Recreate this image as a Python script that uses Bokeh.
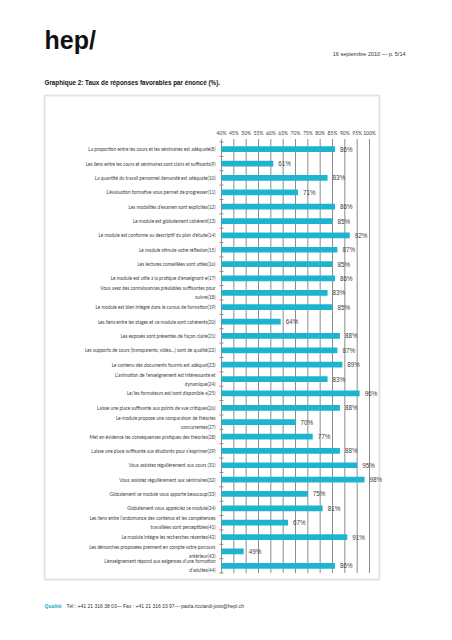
from bokeh.plotting import figure
from bokeh.models import Range1d, Label, BoxAnnotation
from bokeh.core.properties import value
from bokeh.embed import file_html
from bokeh.resources import INLINE

categories = [
    "La proportion entre les cours et les séminaires est adéquate(8)",
    "Les liens entre les cours et séminaires sont clairs et suffisants(9)",
    "La quantité du travail personnel demandé est adéquate(10)",
    "L’évaluation formative vous permet de progresser(11)",
    "Les modalités d’examen sont explicites(12)",
    "Le module est globalement cohérent(13)",
    "Le module est conforme au descriptif du plan d’étude(14)",
    "Le module stimule votre réflexion(15)",
    "Les lectures conseillées sont utiles(16)",
    "Le module est utile à la pratique d’enseignant-e(17)",
    "Vous avez des connaissances préalables suffisantes pour\nsuivre(18)",
    "Le module est bien intégré dans le cursus de formation(19)",
    "Les liens entre les stages et ce module sont cohérents(20)",
    "Les exposés sont présentés de façon claire(21)",
    "Les supports de cours (transparents, vidéo…) sont de qualité(22)",
    "Le contenu des documents fournis est adéquat(23)",
    "L’animation de l’enseignement est intéressante et\ndynamique(24)",
    "Le/les formateurs est/sont disponible-s(25)",
    "Laisse une place suffisante aux points de vue critiques(26)",
    "Le module propose une comparaison de théories\nconcurrentes(27)",
    "Met en évidence les conséquences pratiques des théories(28)",
    "Laisse une place suffisante aux étudiants pour s’exprimer(29)",
    "Vous assistez régulièrement aux cours (31)",
    "Vous assistez régulièrement aux séminaires(32)",
    "Globalement ce module vous apporte beaucoup(33)",
    "Globalement vous appréciez ce module(34)",
    "Les liens entre l’ordonnance des contenus et les compétences\ntravaillées sont perceptibles(41)",
    "Le module intègre les recherches récentes(42)",
    "Les démarches proposées prennent en compte votre parcours\nantérieur(43)",
    "L’enseignement répond aux exigences d’une formation\nd’adultes(44)",
]

favorable_pct = [86, 61, 83, 71, 86, 85, 92, 87, 85, 86, 83, 85, 64, 88, 87,
                 89, 83, 96, 88, 70, 77, 88, 95, 98, 75, 81, 67, 91, 49, 86]

x_ticks = [40, 45, 50, 55, 60, 65, 70, 75, 80, 85, 90, 95, 100]
x_tick_labels = ["40%", "45%", "50%", "55%", "60%", "65%", "70%", "75%",
                 "80%", "85%", "90%", "95%", "100%"]

logo_text = "hep/"
date_text = "16 septembre 2010 — p. 5/14"
title_text = "Graphique 2: Taux de réponses favorables par énoncé (%)."
footer_tag = "Qualité"
footer_text = "Tél : +41 21 316 38 03— Fax : +41 21 316 33 97— paola.ricciardi-joos@hepl.ch"

BAR = "#1db4cf"
GRID = "#8c8c8c"
TXT = "#404040"

# canvas geometry (pixels)
W, H = 436, 624
PX_40, PX_100 = 221.0, 369.0          # where 40% and 100% fall
BAND_TOP, BAND_BOTTOM = 141.5, 572.5  # first / last category band edges

n = len(categories)
kx = (PX_100 - PX_40) / (x_ticks[-1] - x_ticks[0])
band = (BAND_BOTTOM - BAND_TOP) / n
x_start = x_ticks[0] - PX_40 / kx
x_end = x_ticks[0] + (W - PX_40) / kx
y_top = -0.5 - BAND_TOP / band
y_bottom = n - 0.5 + (H - BAND_BOTTOM) / band


def X(px):
    return x_start + px / kx


def Y(py):
    return y_top + py / band


rows = list(range(n))

p = figure(width=W, height=H, output_backend="svg", toolbar_location=None,
           x_range=Range1d(x_start, x_end), y_range=Range1d(y_bottom, y_top),
           x_axis_type=None, y_axis_type=None, title=None,
           min_border=0, min_border_left=0, min_border_right=0,
           min_border_top=0, min_border_bottom=0)
p.outline_line_color = None
p.background_fill_color = "white"
p.border_fill_color = "white"
p.grid.visible = False

# vertical gridlines
p.segment(x0=x_ticks, x1=x_ticks, y0=-0.5 - 3 / band, y1=n - 0.5,
          line_color=GRID, line_width=1)
# small category tick marks on the value axis
p.scatter(x=[x_ticks[0]] * (n + 1), y=[r - 0.5 for r in range(n + 1)],
          marker="dash", size=4, line_color=GRID, line_width=1)

p.hbar(y=rows, left=x_ticks[0], right=favorable_pct, height=0.4,
       fill_color=BAR, line_color=None)

# value labels
p.text(x=favorable_pct, y=rows, text=[f"{v}%" for v in favorable_pct],
       x_offset=5, text_baseline="middle", text_align="left",
       text_font=value("Liberation Sans"), text_font_size="6.3px",
       text_color=TXT)

# category labels
p.text(x=[x_ticks[0]] * n, y=rows, text=categories, x_offset=-6,
       text_baseline="middle", text_align="right",
       text_font=value("Lato"), text_font_size="4.7px",
       text_color=TXT, text_line_height=1.5)

# percent tick labels (top)
p.text(x=x_ticks, y=[Y(132.7)] * len(x_ticks), text=x_tick_labels,
       text_baseline="middle", text_align="center",
       text_font=value("Lato"), text_font_size="5px", text_color=TXT)

# outer chart box
p.add_layout(BoxAnnotation(left=X(44), right=X(379), top=Y(95), bottom=Y(579),
                           fill_color=None, fill_alpha=0,
                           line_color="#a6a6a6", line_width=2))

# page texts
p.add_layout(Label(x=X(44), y=Y(39.5), text=logo_text, text_font="Liberation Sans",
                   text_font_style="bold", text_font_size="25px",
                   text_color="#111111", text_baseline="alphabetic"))
p.add_layout(Label(x=X(405), y=Y(53), text=date_text, text_font="Liberation Sans",
                   text_font_size="5.5px", text_color="#333333",
                   text_align="right", text_baseline="middle"))
p.add_layout(Label(x=X(44), y=Y(82), text=title_text, text_font="Liberation Sans",
                   text_font_style="bold", text_font_size="6.3px",
                   text_color="#111111", text_baseline="middle"))
p.add_layout(Label(x=X(44), y=Y(605), text=footer_tag, text_font="Liberation Sans",
                   text_font_style="bold", text_font_size="5px",
                   text_color="#1aa9c9", text_baseline="middle"))
p.add_layout(Label(x=X(66), y=Y(605), text=footer_text, text_font="Liberation Sans",
                   text_font_size="5px", text_color="#333333",
                   text_baseline="middle"))

open("out.html", "w").write(file_html(p, INLINE))
